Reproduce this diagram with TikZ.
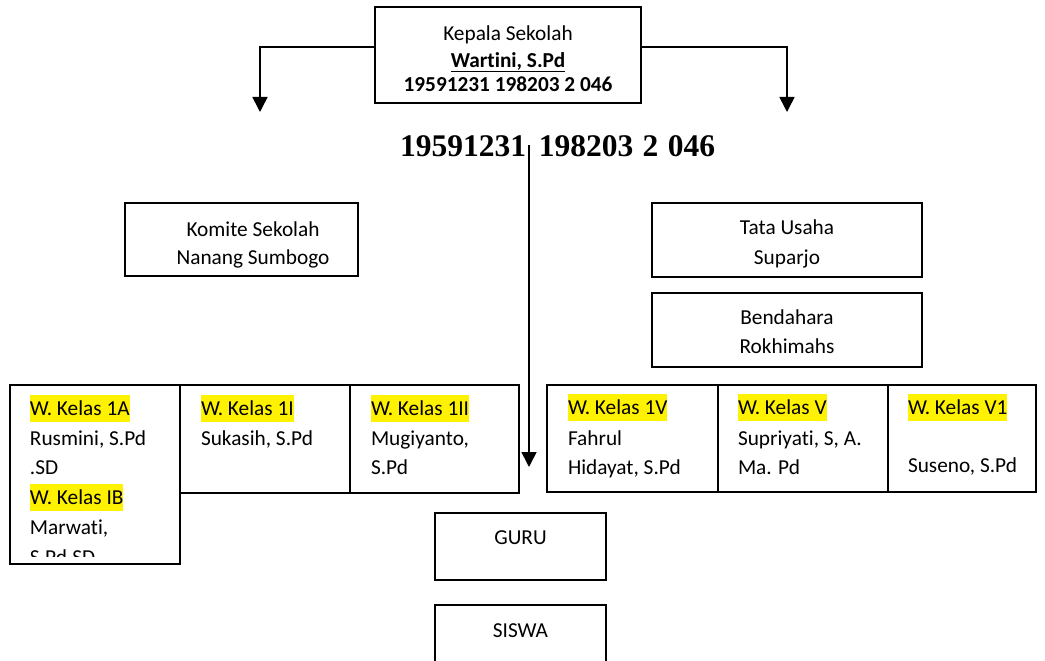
\documentclass[tikz,border=0pt]{standalone}
\usepackage{fontspec}
\setmainfont{Carlito}[Ligatures=NoCommon]
\newfontfamily\timesfont{Liberation Serif}
\usetikzlibrary{arrows.meta}
\newcommand{\hlt}[1]{{\setlength{\fboxsep}{0pt}\colorbox{yellow}{\rule[-7pt]{0pt}{27pt}#1}}}
\tikzset{
  box/.style={draw, line width=1.7pt, inner sep=0pt, outer sep=0pt},
  txt/.style={inner sep=0pt, outer sep=0pt, font=\fontsize{21.3}{24}\selectfont},
  btxt/.style={txt, anchor=base, font=\fontsize{21.3}{24}\selectfont\bfseries},
  ltxt/.style={txt, anchor=base west},
  ctxt/.style={txt, anchor=base},
  conn/.style={line width=1.6pt, -{Triangle[width=15pt,length=15pt]}},
}
\begin{document}
\begin{tikzpicture}[x=1pt,y=-1pt]
\clip (0,0) rectangle (1045,661);
\fill[white] (0,0) rectangle (1045,661);
% top box
\node[box, minimum width=266pt, minimum height=96pt] (kepala) at (508,55) {};
\node[ctxt] (kt1) at (508,41) {Kepala Sekolah};
\node[btxt] (kt2) at (508,67) {\underline{Wartini, S.Pd}};
\node[btxt] (kt3) at (508,92) {19591231 198203 2 046};
% arrows from top box
\coordinate (ltip) at (260,112);
\coordinate (rtip) at (787,112);
\draw[conn] ([yshift=8pt]kepala.west) -| (ltip);
\draw[conn] ([yshift=8pt]kepala.east) -| (rtip);
% big number
\node[inner sep=0pt, anchor=base west, font=\timesfont\fontsize{31.5}{34}\selectfont\bfseries] (nip) at (400,157) {19591231\hspace{0.4em}198203\hspace{0.3em}2\hspace{0.3em}046};
\coordinate (ctop) at (529,145);
\coordinate (ctip) at (529,467);
\draw[conn] (ctop) -- (ctip);
% komite
\node[box, minimum width=233pt, minimum height=73pt] (komite) at (241.5,239.5) {};
\node[ctxt] (kom1) at (253,236) {Komite Sekolah};
\node[ctxt] (kom2) at (253,264) {Nanang Sumbogo};
% tata usaha
\node[box, minimum width=270pt, minimum height=74pt] (tu) at (787,240) {};
\node[ctxt] (tu1) at (787,234) {Tata Usaha};
\node[ctxt] (tu2) at (787,264) {Suparjo};
% bendahara
\node[box, minimum width=270pt, minimum height=74pt] (bend) at (787,330) {};
\node[ctxt] (be1) at (787,324) {Bendahara};
\node[ctxt] (be2) at (787,353) {Rokhimahs};
% left class row
\node[box, minimum width=170pt, minimum height=179pt] (c1) at (95,474.5) {};
\node[box, minimum width=170pt, minimum height=108pt] (c2) at (265,439) {};
\node[box, minimum width=169pt, minimum height=108pt] (c3) at (434.5,439) {};
\node[ltxt] (c1a) at (30,415) {\hlt{W. Kelas 1A}};
\node[ltxt] (c1b) at (30,445) {Rusmini, S.Pd};
\node[ltxt] (c1c) at (30,474.5) {.SD};
\node[ltxt] (c1d) at (30,504) {\hlt{W. Kelas IB}};
\node[ltxt] (c1e) at (30,534) {Marwati,};
\begin{scope}
\clip (12,540) rectangle (178,556);
\node[ltxt] (c1f) at (30,564) {S.Pd.SD};
\end{scope}
\node[ltxt] (c2a) at (201,415) {\hlt{W. Kelas 1I}};
\node[ltxt] (c2b) at (201,445) {Sukasih, S.Pd};
\node[ltxt] (c3a) at (371,415) {\hlt{W. Kelas 1II}};
\node[ltxt] (c3b) at (371,445) {Mugiyanto,};
\node[ltxt] (c3c) at (371,474.5) {S.Pd};
% right class row
\node[box, minimum width=171pt, minimum height=107pt] (c4) at (632.5,438.5) {};
\node[box, minimum width=170pt, minimum height=107pt] (c5) at (803,438.5) {};
\node[box, minimum width=148pt, minimum height=107pt] (c6) at (962,438.5) {};
\node[ltxt] (c4a) at (568,414) {\hlt{W. Kelas 1V}};
\node[ltxt] (c4b) at (568,445) {Fahrul};
\node[ltxt] (c4c) at (568,474) {Hidayat, S.Pd};
\node[ltxt] (c5a) at (738,414) {\hlt{W. Kelas V}};
\node[ltxt] (c5b) at (738,445) {Supriyati, S, A.};
\node[ltxt] (c5c) at (738,474) {Ma. Pd};
\node[ltxt] (c6a) at (908,414) {\hlt{W. Kelas V1}};
\node[ltxt] (c6b) at (908,472) {Suseno, S.Pd};
% guru, siswa
\node[box, minimum width=171pt, minimum height=67pt] (guru) at (520.5,546.5) {};
\node[ctxt] (gt) at (520.5,544) {GURU};
\node[box, minimum width=171pt, minimum height=95pt] (siswa) at (520.5,652.5) {};
\node[ctxt] (st) at (520.5,637) {SISWA};
\end{tikzpicture}
\end{document}
